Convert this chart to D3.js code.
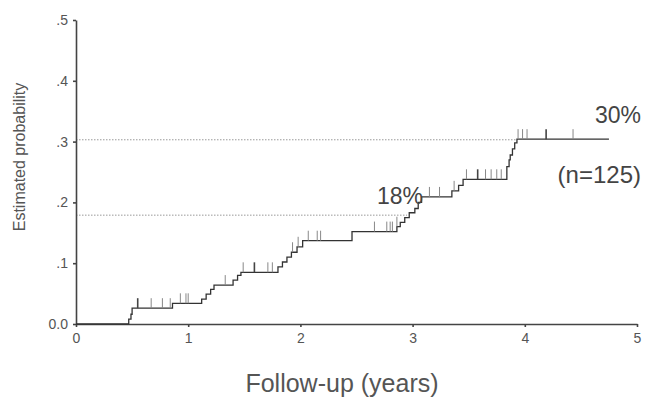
<!DOCTYPE html>
<html lang="en">
<head>
  <meta charset="UTF-8">
  <title>Estimated probability</title>
  <script src="https://d3js.org/d3.v7.min.js"></script>
  <style>
    body { margin: 0; background: #fff; }
    svg { display: block; font-family: Arial, "Liberation Sans", sans-serif; }
    .axis path, .axis line { stroke: #444; stroke-width: 1.6px; }
    .axis text { fill: #555; font-size: 14px; }
  </style>
</head>
<body>
<svg width="645" height="398"></svg>
<script>
// step times (years) and cumulative probability after each step
const stepTimes = [0, 0.47, 0.49, 0.50, 0.86, 1.12, 1.16, 1.20, 1.23, 1.40, 1.44, 1.47,
  1.80, 1.84, 1.88, 1.92, 1.97, 2.02, 2.46, 2.86, 2.89, 2.93, 2.97, 3.02, 3.05, 3.08,
  3.35, 3.41, 3.45, 3.84, 3.86, 3.87, 3.89, 3.91, 3.93, 4.75];
const stepProb = [0, 0.008, 0.016, 0.026, 0.034, 0.041, 0.049, 0.057, 0.064, 0.072, 0.080, 0.085,
  0.094, 0.102, 0.110, 0.118, 0.127, 0.137, 0.152, 0.160, 0.167, 0.175, 0.183, 0.190, 0.200, 0.209,
  0.219, 0.228, 0.238, 0.259, 0.270, 0.278, 0.288, 0.298, 0.304, 0.304];
// censored observations
const censorTimes = [0.55, 0.67, 0.77, 0.84, 0.93, 0.98, 1.00, 1.33, 1.49, 1.59, 1.71, 1.75,
  1.93, 1.98, 2.07, 2.15, 2.18, 2.66, 2.77, 2.80, 2.82, 2.86, 3.15, 3.24, 3.37,
  3.48, 3.58, 3.65, 3.70, 3.75, 3.79, 3.94, 3.98, 4.02, 4.19, 4.43];
const boldCensors = [0.55, 1.59, 3.58, 4.19];
const yTicks = [0, 0.1, 0.2, 0.3, 0.4, 0.5];
const yTickLabels = ["0.0", ".1", ".2", ".3", ".4", ".5"];
const xTicks = [0, 1, 2, 3, 4, 5];
// dotted reference lines: level and where they stop
const refLines = [
  { p: 0.303, t: 3.92 },
  { p: 0.179, t: 2.95 }
];

const svg = d3.select("svg");
const x = d3.scaleLinear().domain([0, 5]).range([76, 637]);
const y = d3.scaleLinear().domain([0, 0.5]).range([324, 20]);

svg.selectAll(".ref")
  .data(refLines)
  .enter().append("line")
  .attr("x1", x(0)).attr("x2", d => x(d.t))
  .attr("y1", d => y(d.p)).attr("y2", d => y(d.p))
  .attr("stroke", "#999").attr("stroke-width", 1)
  .attr("stroke-dasharray", "1.5,1.5");

// axes
svg.append("g").attr("class", "axis")
  .attr("transform", `translate(0,${y(0)})`)
  .call(d3.axisBottom(x).tickValues(xTicks).tickSize(3).tickSizeOuter(0)
    .tickPadding(6).tickFormat(d3.format("d")));

svg.append("g").attr("class", "axis")
  .attr("transform", `translate(${x(0)},0)`)
  .call(d3.axisLeft(y).tickValues(yTicks).tickSize(3).tickSizeOuter(0).tickPadding(5)
    .tickFormat((d, i) => yTickLabels[i]));

// step curve
const steps = stepTimes.map((t, i) => [t, stepProb[i]]);
svg.append("path")
  .datum(steps)
  .attr("fill", "none")
  .attr("stroke", "#333")
  .attr("stroke-width", 1.3)
  .attr("d", d3.line().x(d => x(d[0])).y(d => y(d[1])).curve(d3.curveStepAfter));

// censor marks
function probAt(t) {
  let p = 0;
  stepTimes.forEach((s, i) => { if (s <= t) p = stepProb[i]; });
  return p;
}
svg.selectAll(".censor")
  .data(censorTimes)
  .enter().append("line")
  .attr("x1", d => x(d)).attr("x2", d => x(d))
  .attr("y1", d => y(probAt(d))).attr("y2", d => y(probAt(d)) - 10)
  .attr("stroke", d => boldCensors.includes(d) ? "#444" : "#888")
  .attr("stroke-width", d => boldCensors.includes(d) ? 1.6 : 1);

// annotations
svg.append("text").attr("x", 641).attr("y", 123).attr("text-anchor", "end")
  .attr("font-size", 23).attr("fill", "#444").text("30%");
svg.append("text").attr("x", 641).attr("y", 183).attr("text-anchor", "end")
  .attr("font-size", 24).attr("fill", "#444").text("(n=125)");
svg.append("text").attr("x", 400).attr("y", 204).attr("text-anchor", "middle")
  .attr("font-size", 23).attr("fill", "#444").text("18%");

// axis titles
svg.append("text").attr("x", 342).attr("y", 392).attr("text-anchor", "middle")
  .attr("font-size", 25).attr("fill", "#555").text("Follow-up (years)");
svg.append("text").attr("transform", "translate(25,157) rotate(-90)").attr("text-anchor", "middle")
  .attr("font-size", 16).attr("fill", "#555").text("Estimated probability");
</script>
</body>
</html>
